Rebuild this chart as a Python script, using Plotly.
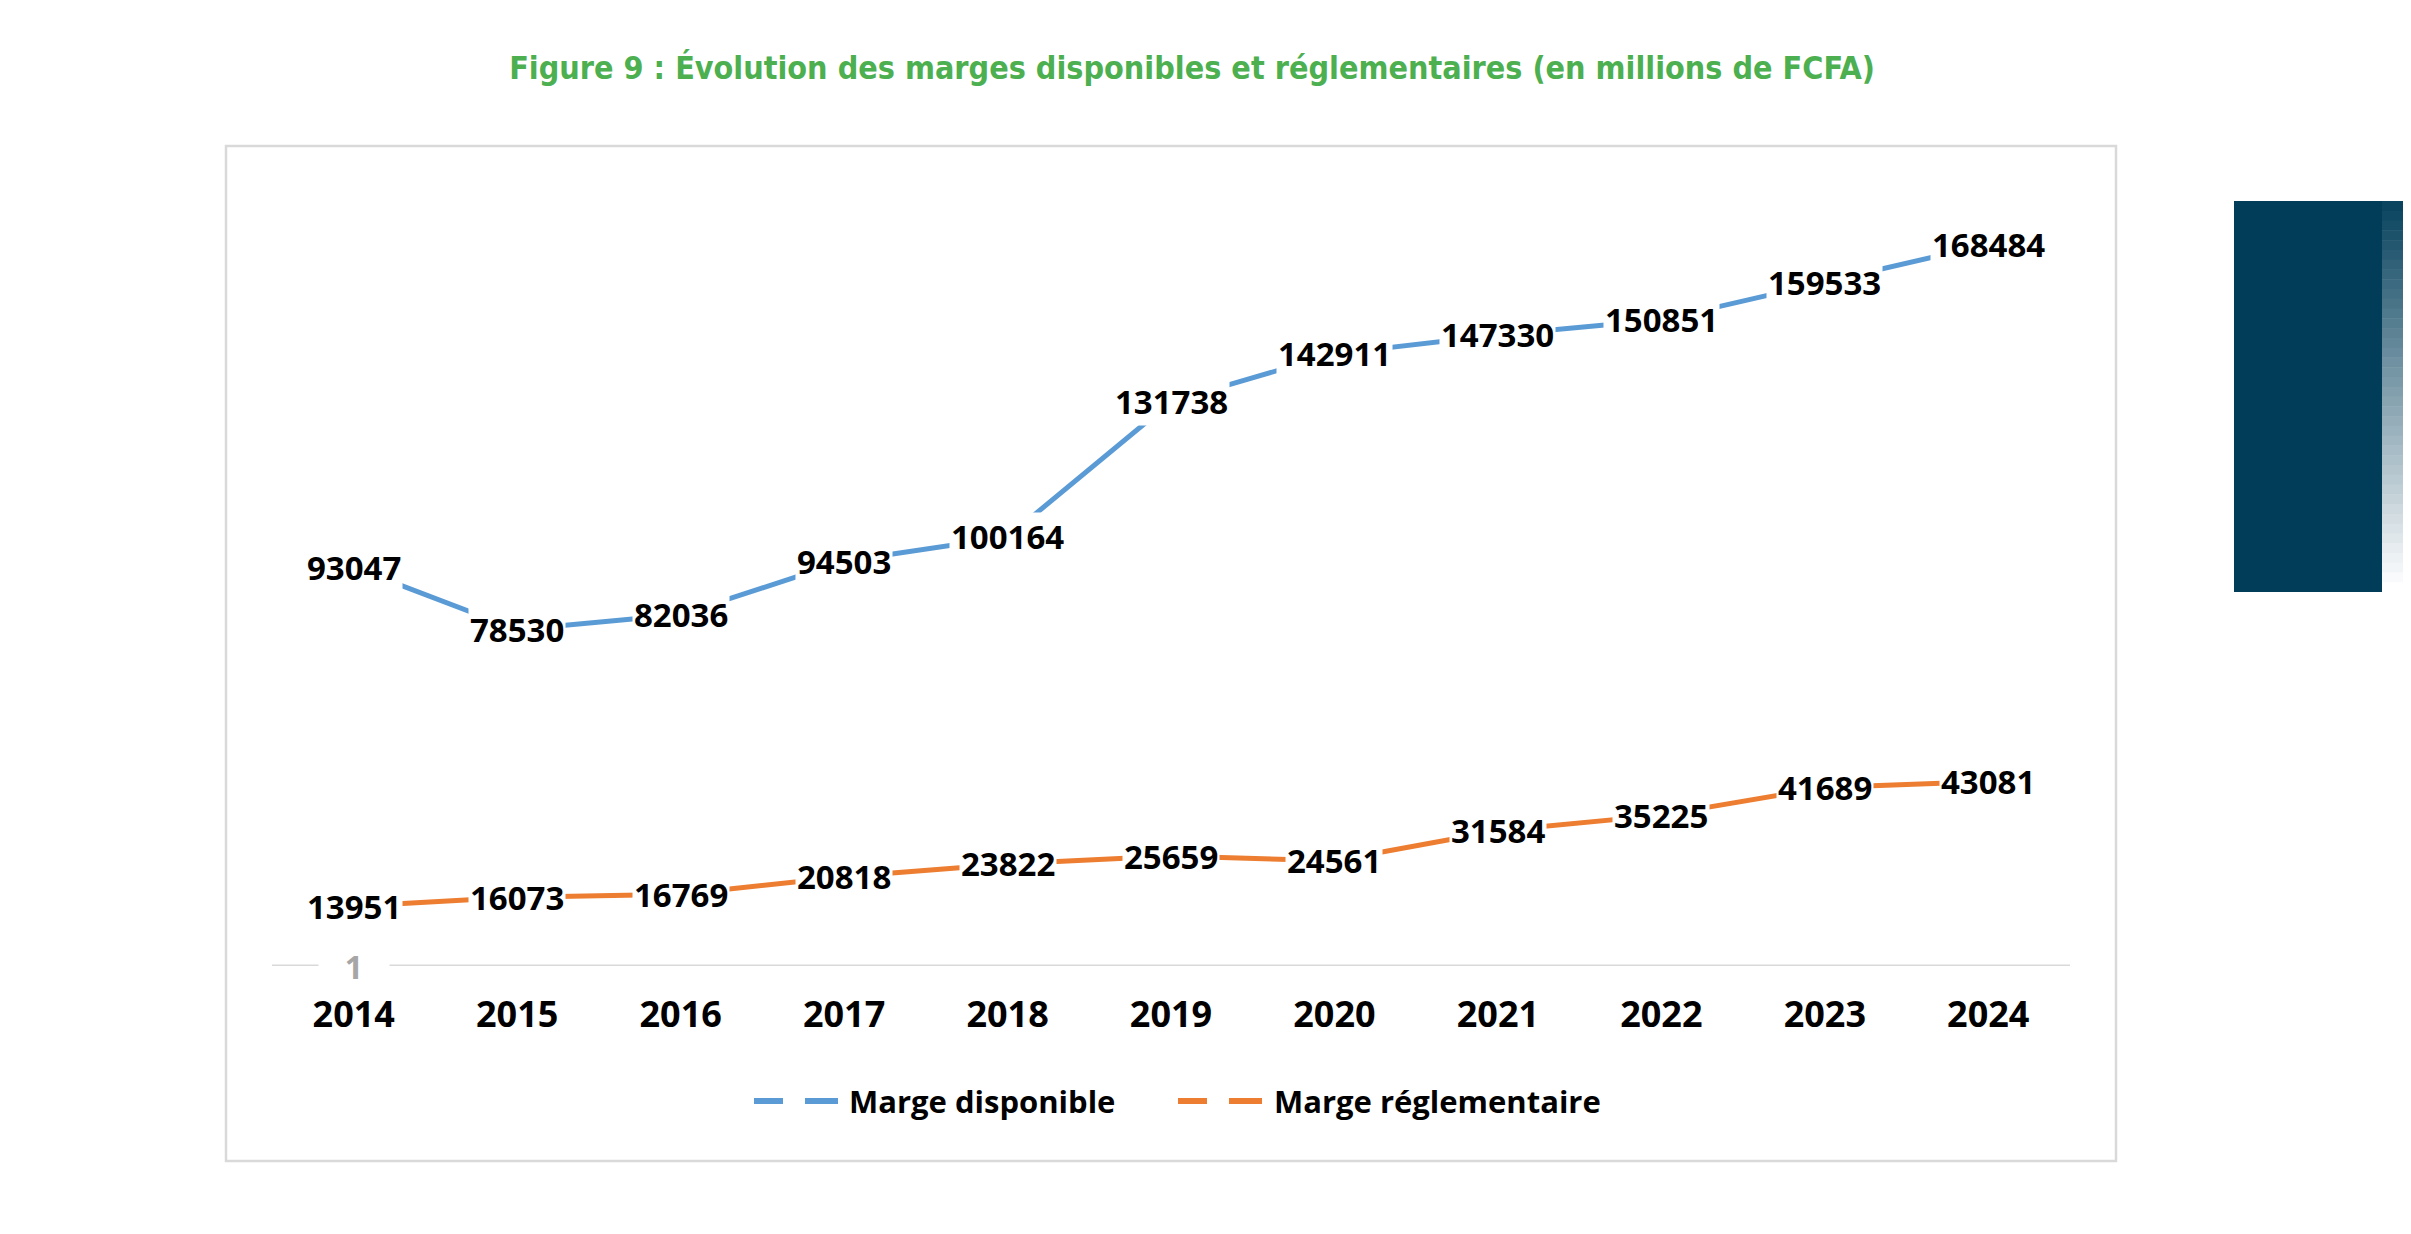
import plotly.graph_objects as go

years = ["2014", "2015", "2016", "2017", "2018", "2019", "2020", "2021", "2022", "2023", "2024"]
marge_disponible = [93047, 78530, 82036, 94503, 100164, 131738, 142911, 147330, 150851, 159533, 168484]
marge_reglementaire = [13951, 16073, 16769, 20818, 23822, 25659, 24561, 31584, 35225, 41689, 43081]
series_names = ["Marge disponible", "Marge réglementaire"]
axis_label = "1"
title_text = "Figure 9 : Évolution des marges disponibles et réglementaires (en millions de FCFA)"

W, H = 2411, 1234
OFF = 8  # page body margin in the browser
L, R, T, B = 272, 2070, 195, 966
PW, PH = R - L, B - T

BLUE = "#5B9BD5"
ORANGE = "#ED7D31"
LABEL_FONT = "Open Sans, Lato, Liberation Sans, sans-serif"
TITLE_FONT = "DejaVu Sans Condensed, DejaVu Sans, sans-serif"


def px(x):
    return (x - L) / PW


def py(y):
    return (B - y) / PH


xs = list(range(len(years)))

fig = go.Figure()
fig.add_trace(go.Scatter(x=xs, y=marge_disponible, mode="lines", name=series_names[0],
                         line=dict(color=BLUE, width=5), showlegend=False, hoverinfo="skip"))
fig.add_trace(go.Scatter(x=xs, y=marge_reglementaire, mode="lines", name=series_names[1],
                         line=dict(color=ORANGE, width=5), showlegend=False, hoverinfo="skip"))

annotations = []
for series in (marge_disponible, marge_reglementaire):
    for xi, v in zip(xs, series):
        annotations.append(dict(x=xi, y=v, xref="x", yref="y", text=f"<b>{v}</b>",
                                showarrow=False, bgcolor="white", borderpad=1,
                                font=dict(family=LABEL_FONT, size=33, color="black")))

# "1" label on the category axis line
annotations.append(dict(x=0, y=0, xref="x", yref="y", text=f"<b>{axis_label}</b>",
                        showarrow=False, bgcolor="white", borderpad=0, width=70,
                        font=dict(family=LABEL_FONT, size=32, color="#A6A6A6")))

shapes = []
# category axis baseline
shapes.append(dict(type="line", xref="paper", yref="y", x0=0, x1=1, y0=0, y1=0,
                   line=dict(color="#D9D9D9", width=3), layer="below"))

# Legend (manual, to reproduce Excel's dashed legend keys)
legend_items = [(series_names[0], BLUE, 754, 847), (series_names[1], ORANGE, 1178, 1272)]
for name, col, x0, xt in legend_items:
    shapes.append(dict(type="line", xref="paper", yref="paper", x0=px(x0), x1=px(x0 + 29),
                       y0=py(1101), y1=py(1101), line=dict(color=col, width=6)))
    shapes.append(dict(type="line", xref="paper", yref="paper", x0=px(x0 + 51), x1=px(x0 + 84),
                       y0=py(1101), y1=py(1101), line=dict(color=col, width=6)))
    annotations.append(dict(x=px(xt), y=py(1101), xref="paper", yref="paper", text=f"<b>{name}</b>",
                            showarrow=False, xanchor="left", yanchor="middle",
                            font=dict(family=LABEL_FONT, size=31, color="black")))

# chart frame
shapes.append(dict(type="rect", xref="paper", yref="paper", x0=px(226), x1=px(2116),
                   y0=py(1161), y1=py(146), line=dict(color="#D9D9D9", width=2.5), layer="below"))

# decorative dark tab on the right
shapes.append(dict(type="rect", xref="paper", yref="paper", x0=px(2234), x1=px(2382),
                   y0=py(592), y1=py(201), line=dict(width=0), fillcolor="#013C59"))
n_steps = 40
top_rgb = (10, 68, 95)
for i in range(n_steps):
    t = i / (n_steps - 1)
    c = tuple(int(round(a + (255 - a) * t)) for a in top_rgb)
    y0 = 201 + (592 - 201) * i / n_steps
    y1 = 201 + (592 - 201) * (i + 1) / n_steps
    shapes.append(dict(type="rect", xref="paper", yref="paper", x0=px(2382), x1=px(2412),
                       y0=py(y1 + 0.5), y1=py(y0), line=dict(width=0),
                       fillcolor=f"rgb({c[0]},{c[1]},{c[2]})"))

FW, FH = W - OFF, H - OFF
fig.update_layout(
    width=FW, height=FH,
    margin=dict(l=L - OFF, r=W - R, t=T - OFF, b=H - B, pad=0, autoexpand=False),
    paper_bgcolor="white", plot_bgcolor="white",
    showlegend=False,
    title=dict(text=title_text, x=(1192 - OFF) / FW, xanchor="center",
               y=1 - (68 - OFF) / FH, yanchor="middle", xref="container", yref="container",
               font=dict(family=TITLE_FONT, size=32, color="#4CAF50", weight="bold")),
    xaxis=dict(range=[-0.5, len(years) - 0.5], tickvals=xs, ticktext=years,
               showgrid=False, zeroline=False, showline=False,
               ticks="outside", ticklen=17, tickcolor="rgba(0,0,0,0)",
               tickfont=dict(family=LABEL_FONT, size=36, color="black", weight="bold"),
               fixedrange=True),
    yaxis=dict(range=[0, 180000], visible=False, showgrid=False, zeroline=False, fixedrange=True),
    annotations=annotations,
    shapes=shapes,
)

fig.write_html("out.html")
